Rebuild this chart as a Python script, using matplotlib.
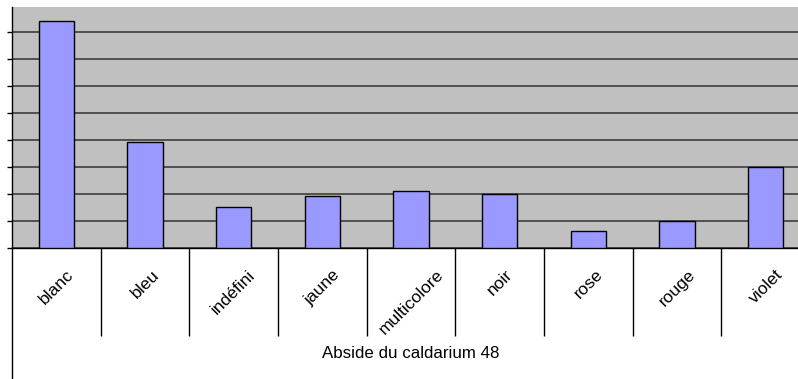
import matplotlib
matplotlib.use('Agg')
import matplotlib.pyplot as plt
from matplotlib.lines import Line2D
import numpy as np

plt.rcParams['font.family'] = ['Liberation Sans', 'DejaVu Sans']

couleurs = ['blanc', 'bleu', 'indéfini', 'jaune', 'multicolore', 'noir', 'rose', 'rouge', 'violet']
nombre = [84, 39, 15, 19, 21, 20, 6, 10, 30]
titre_x = 'Abside du caldarium 48'

W, H = 798, 379
fig = plt.figure(figsize=(W / 100, H / 100), dpi=100)
# plot area runs past the right edge of the picture, as in the original
left, right = 12, 810
top, base = 7.3, 247.7
ax = fig.add_axes([left / W, (H - base) / H, (right - left) / W, (base - top) / H])
ax.set_facecolor('#C0C0C0')

x = np.arange(len(couleurs))
ax.bar(x, nombre, width=0.4, color='#9999FF', edgecolor='black', linewidth=1.0, zorder=3)

ax.set_xlim(-0.5, len(couleurs) - 0.5)
ax.set_ylim(0, 89)
ax.set_yticks(np.arange(0, 90, 10))
ax.set_yticklabels([])
ax.yaxis.grid(True, color='#333333', linewidth=1.1, zorder=1)
ax.tick_params(axis='y', direction='out', length=3.5, width=1, color='black')

# long ticks between categories act as separators
ax.set_xticks(np.arange(0.5, len(couleurs) - 0.5, 1.0))
ax.set_xticklabels([])
ax.tick_params(axis='x', direction='out', length=88 * 0.72, width=1, color='black')

for s in ['top', 'right']:
    ax.spines[s].set_visible(False)
ax.spines['left'].set_linewidth(1)
ax.spines['bottom'].set_linewidth(1)

# left line continues to the bottom of the picture
fig.add_artist(Line2D([left / W, left / W], [0, (H - base) / H], color='black', linewidth=1))

lab_y = (H - 267) / H
for i, c in enumerate(couleurs):
    fx = (left + (i + 0.5) * (right - left) / len(couleurs)) / W
    fig.text(fx, lab_y, c, rotation=45, ha='center', va='top', fontsize=12.5)

fig.text(411 / W, (H - 353) / H, titre_x, ha='center', va='center', fontsize=12.2)

fig.savefig('out.png', dpi=100, facecolor='white')
